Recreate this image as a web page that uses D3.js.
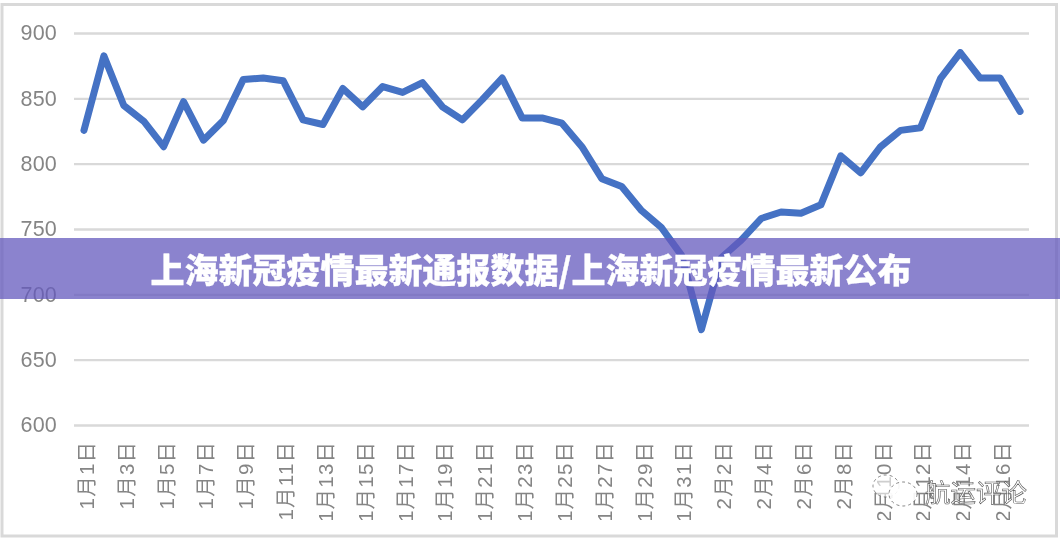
<!DOCTYPE html>
<html><head><meta charset="utf-8">
<script src="https://cdn.jsdelivr.net/npm/d3@7"></script>
<style>
html,body{margin:0;padding:0;background:#fff;overflow:hidden}
svg{display:block}
text{font-family:"Liberation Sans","Noto Sans CJK SC",sans-serif}
</style></head><body>
<svg id="c" width="1060" height="539"></svg>
<script>
const titleText = "上海新冠疫情最新通报数据/上海新冠疫情最新公布";
const watermark = "航运评论";
const yTicks = [600,650,700,750,800,850,900];
const januaryDays = d3.range(1,32).map(d=>`1月${d}日`);
const februaryDays = d3.range(1,18).map(d=>`2月${d}日`);
const categories = januaryDays.concat(februaryDays);
const values = [825.5,882.5,844.5,832.5,813,847.5,818,833,864.5,865.5,863.5,833.5,830,857.5,843.5,859,854.5,862,843.5,833.5,849,865.5,835,835,831,813,788.5,782.5,764,751,730,673,728,741.5,758,763,762,768.5,806,793,813,825.5,827.5,865,885,865.5,865.5,840];

const svg = d3.select("#c");
const W=1060,H=539;
const defs = svg.append("defs");
defs.append("filter").attr("id","soft").append("feGaussianBlur").attr("stdDeviation",0.45);
const root = svg.append("g").attr("filter","url(#soft)");
// frame
root.append("rect").attr("x",2).attr("y",4.5).attr("width",1054.5).attr("height",531.5)
  .attr("fill","#fff").attr("stroke","#d9d9d9").attr("stroke-width",3);

const x = d3.scaleBand().domain(categories).range([74,1030]);
const y = d3.scaleLinear().domain([600,900]).range([425,33]);
const cx = d=>x(d)+x.bandwidth()/2;

// grid + y labels
const yAxis = d3.axisLeft(y).tickValues(yTicks).tickSize(-(1029-74)).tickPadding(17).tickFormat(d3.format("d"));
const gy = root.append("g").attr("transform","translate(74,0)").call(yAxis);
gy.select(".domain").remove();
gy.selectAll("line").attr("stroke","#d9d9d9").attr("stroke-width",2.4);
gy.selectAll("text").attr("fill","#858585").attr("font-size",21.5).attr("letter-spacing",0.2);

// x labels, clipped by the picture's bottom crop
root.append("clipPath").attr("id","xclip").append("rect").attr("x",60).attr("y",435).attr("width",980).attr("height",85);
const xg = root.append("g").attr("clip-path","url(#xclip)");
const xAxis = d3.axisBottom(x).tickValues(categories.filter((d,i)=>i%2===0)).tickSize(0).tickPadding(0);
const gx = xg.append("g").attr("transform","translate(2.5,440.8)").call(xAxis);
gx.select(".domain").remove();
gx.selectAll("text").attr("fill","#858585").attr("font-size",20.5).attr("letter-spacing",1.2)
  .attr("transform","rotate(-90)")
  .attr("text-anchor","end").attr("x",0).attr("y",0).attr("dy","0.36em");

// line
const line = d3.line().x((d,i)=>cx(categories[i])).y(d=>y(d));
root.append("path").datum(values).attr("fill","none").attr("stroke","#4472c4")
  .attr("stroke-width",7).attr("stroke-linejoin","round").attr("stroke-linecap","round").attr("d",line);

// banner
root.append("rect").attr("x",0).attr("y",238).attr("width",W).attr("height",61)
  .attr("fill","rgb(100,90,190)").attr("fill-opacity",0.75);
root.append("text").attr("x",531).attr("y",283).attr("text-anchor","middle")
  .attr("fill","#fff").attr("stroke","#fff").attr("stroke-width",0.35).attr("font-size",34).attr("font-weight",900)
  .style("font-family",'"Noto Sans CJK SC",sans-serif').text(titleText);

// watermark
const wm = root.append("g").attr("fill","#fff").attr("fill-opacity",0.6).attr("stroke","#555").attr("stroke-width",0.7);
wm.append("ellipse").attr("cx",886).attr("cy",486).attr("rx",13).attr("ry",11).attr("stroke-dasharray","3 3");
wm.append("ellipse").attr("cx",903).attr("cy",494).attr("rx",14).attr("ry",12).attr("stroke-dasharray","3 3").attr("fill-opacity",0.9);
wm.append("text").attr("x",925).attr("y",502).attr("font-size",25.5)
  .style("font-family",'"Noto Sans CJK SC",sans-serif').attr("stroke-width",0.6).text(watermark);
</script>
</body></html>
